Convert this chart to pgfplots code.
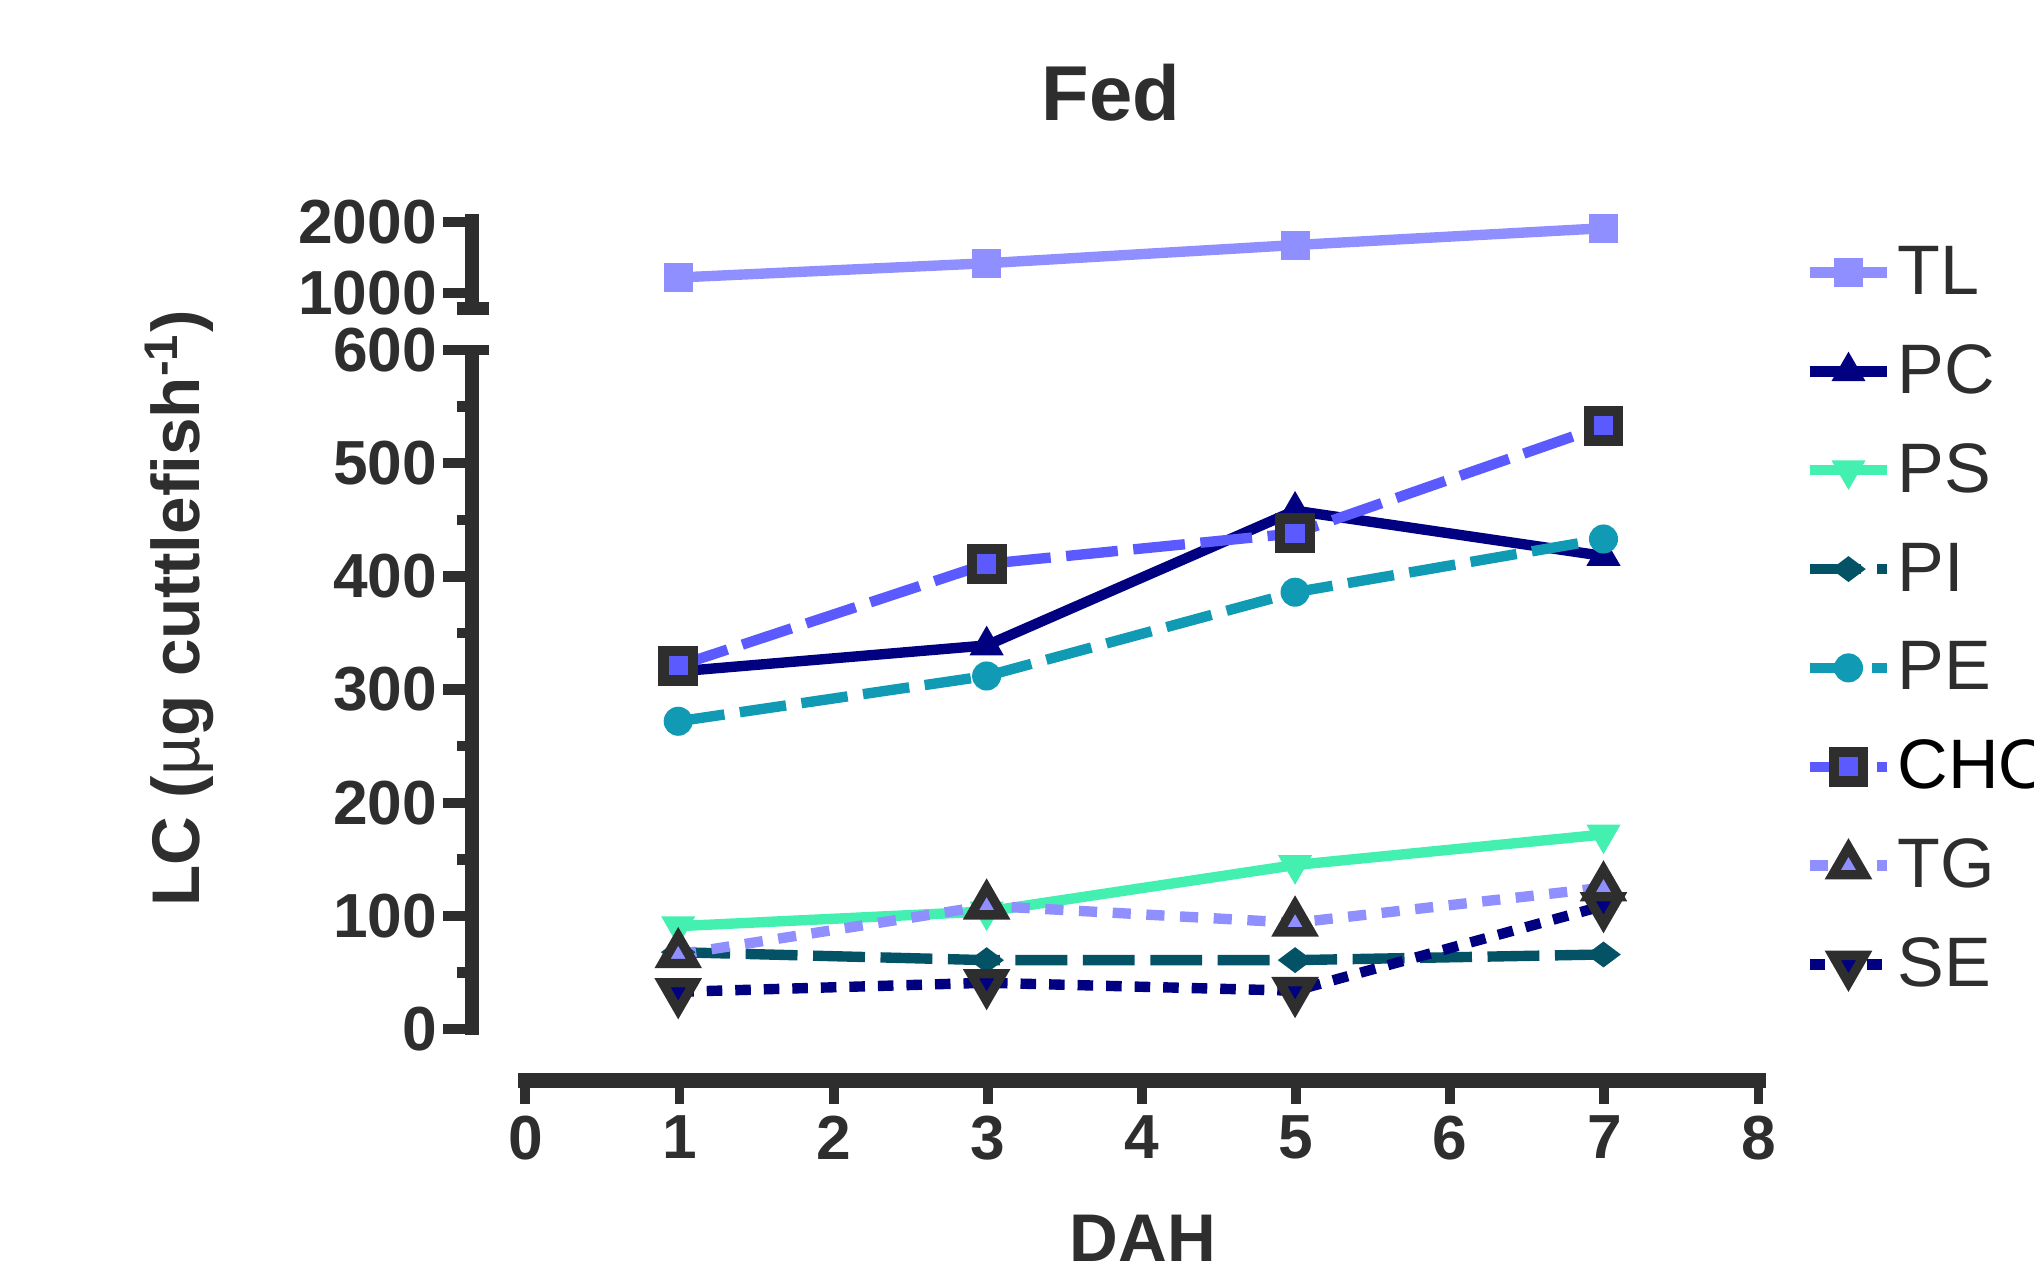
\documentclass[border=0pt]{standalone}
\usepackage{pgfplots}
\pgfplotsset{compat=1.18}
\usepackage{fontspec}
\setmainfont{Liberation Sans}
\definecolor{ink}{HTML}{2E2E2E}
\definecolor{cTL}{HTML}{8F8FFF}
\definecolor{cPC}{HTML}{000080}
\definecolor{cPS}{HTML}{44F0B0}
\definecolor{cPI}{HTML}{045266}
\definecolor{cPE}{HTML}{109AB4}
\definecolor{cCHO}{HTML}{5A5AFF}
\begin{document}
\begin{tikzpicture}
\useasboundingbox (0,0) rectangle (392pt,245.25pt);
\clip (0,0) rectangle (392pt,245.25pt);
\pgfplotsset{
  brk/.style={
    scale only axis, anchor=south west, clip=false,
    axis x line=none, axis y line=left,
    axis line style={-, line width=2.6pt, ink},
    major tick style={line width=2pt, ink},
    minor tick style={line width=2pt, ink},
    tick align=outside,
    major tick length=5.6pt, minor tick length=3pt,
    yticklabel style={font=\bfseries\fontsize{12}{12}\selectfont, text=ink, inner sep=1pt},
    /pgf/number format/assume math mode=true,
    /pgf/number format/1000 sep={},
    xmin=-0.336, xmax=8, width=247.75pt,
    every axis plot/.append style={line width=2pt},
  }
}
% upper segment
\begin{axis}[brk, at={(91pt,184.5pt)}, height=19.525pt, ymin=690, ymax=2110,
  ytick={1000,2000}]
\addplot[cTL, mark=square*, mark size=2.6pt, mark options={solid, line width=0.4pt}]
  coordinates {(1,1218)(3,1418)(5,1673)(7,1909)};
\draw[line width=2.5pt, ink] ([xshift=-3pt, yshift=1.25pt]rel axis cs:0,0) -- ([xshift=3.3pt,yshift=1.25pt]rel axis cs:0,0);
\end{axis}
% lower segment
\begin{axis}[brk, at={(91pt,45.8pt)}, height=132pt, ymin=-5, ymax=600,
  ytick={0,100,...,600}, minor ytick={50,150,...,550},
  legend cell align=left,
  legend style={at={(1.0363,1.185)}, anchor=north west, draw=none, fill=none,
    inner sep=0pt, outer sep=0pt, row sep=0.05pt,
    font=\fontsize{13.5}{13.5}\selectfont, text=ink,
    nodes={inner xsep=1pt, inner ysep=3.75pt}},
  legend image code/.code={\draw[mark repeat=2,mark phase=2,#1] plot coordinates {(0pt,0pt)(7.5pt,0pt)(15pt,0pt)};}
  ]
\addlegendimage{cTL, line width=2pt, mark=square*, mark size=2.6pt, mark options={solid, line width=0.4pt}}
\addlegendentry{\rule{0pt}{10pt}TL}
\addplot[cPC, mark=triangle*, mark size=3.4pt, mark options={solid, line width=0.4pt}]
  coordinates {(1,316)(3,339)(5,458)(7,418)};
\addlegendentry{\rule{0pt}{10pt}PC}
\addplot[cPS, mark=triangle*, mark size=3.4pt, mark options={solid, line width=0.4pt, rotate=180}]
  coordinates {(1,91)(3,104)(5,145)(7,172)};
\addlegendentry{\rule{0pt}{10pt}PS}
\addplot[cPI, dash pattern=on 10pt off 3pt, mark=diamond*, mark size=3pt, mark options={solid, line width=0.4pt, rotate=90}]
  coordinates {(1,68)(3,61)(5,61)(7,66)};
\addlegendentry{\rule{0pt}{10pt}PI}
\addplot[cPE, dash pattern=on 9pt off 3pt, mark=*, mark size=2.6pt, mark options={solid, line width=0.4pt}]
  coordinates {(1,272)(3,312)(5,386)(7,433)};
\addlegendentry{\rule{0pt}{10pt}PE}
\addplot[cCHO, dash pattern=on 10pt off 3pt, mark=square*, mark size=2.85pt, mark options={solid, draw=ink, fill=cCHO, line width=2pt}]
  coordinates {(1,321)(3,411)(5,438)(7,533)};
\addlegendentry{\rule{0pt}{10pt}\textcolor{black}{CHO}}
\addplot[cTL, dash pattern=on 3.5pt off 3pt, mark=triangle*, mark size=3.5pt, mark options={solid, draw=ink, fill=cTL, line width=1.8pt}]
  coordinates {(1,66)(3,109)(5,94)(7,125)};
\addlegendentry{\rule{0pt}{10pt}TG}
\addplot[cPC, dash pattern=on 3pt off 2.5pt, mark=triangle*, mark size=3.5pt, mark options={solid, draw=ink, fill=cPC, line width=1.8pt, rotate=180}]
  coordinates {(1,33)(3,41)(5,34)(7,109)};
\addlegendentry{\rule{0pt}{10pt}SE}
\draw[line width=2pt, ink] (rel axis cs:0,1) -- ([xshift=3.3pt]rel axis cs:0,1);
\end{axis}
% x axis
\begin{axis}[scale only axis, anchor=south west, at={(101.25pt,37pt)},
  width=237.65pt, height=10pt, xmin=0, xmax=8, ymin=0, ymax=1,
  axis y line=none, axis x line=bottom,
  axis line style={-, line width=2.8pt, ink, line cap=rect},
  xtick={0,1,...,8}, tick align=outside, major tick length=4.6pt,
  major tick style={line width=1.9pt, ink},
  xticklabel style={font=\bfseries\fontsize{12}{12}\selectfont, text=ink, inner sep=2pt},
  /pgf/number format/assume math mode=true]
\addplot[draw=none] coordinates {(0,0)};
\end{axis}
\node[font=\bfseries\fontsize{15}{15}\selectfont, text=ink] at (214.1pt,227.4pt) {Fed};
\node[font=\bfseries\fontsize{13}{13}\selectfont, text=ink] at (220.25pt,6.5pt) {DAH};
\node[rotate=90, anchor=base, font=\bfseries\fontsize{13}{13}\selectfont, text=ink] at (38.5pt,128pt) {LC ({\mdseries µ}g cuttlefish\textsuperscript{-1})};
\end{tikzpicture}
\end{document}
